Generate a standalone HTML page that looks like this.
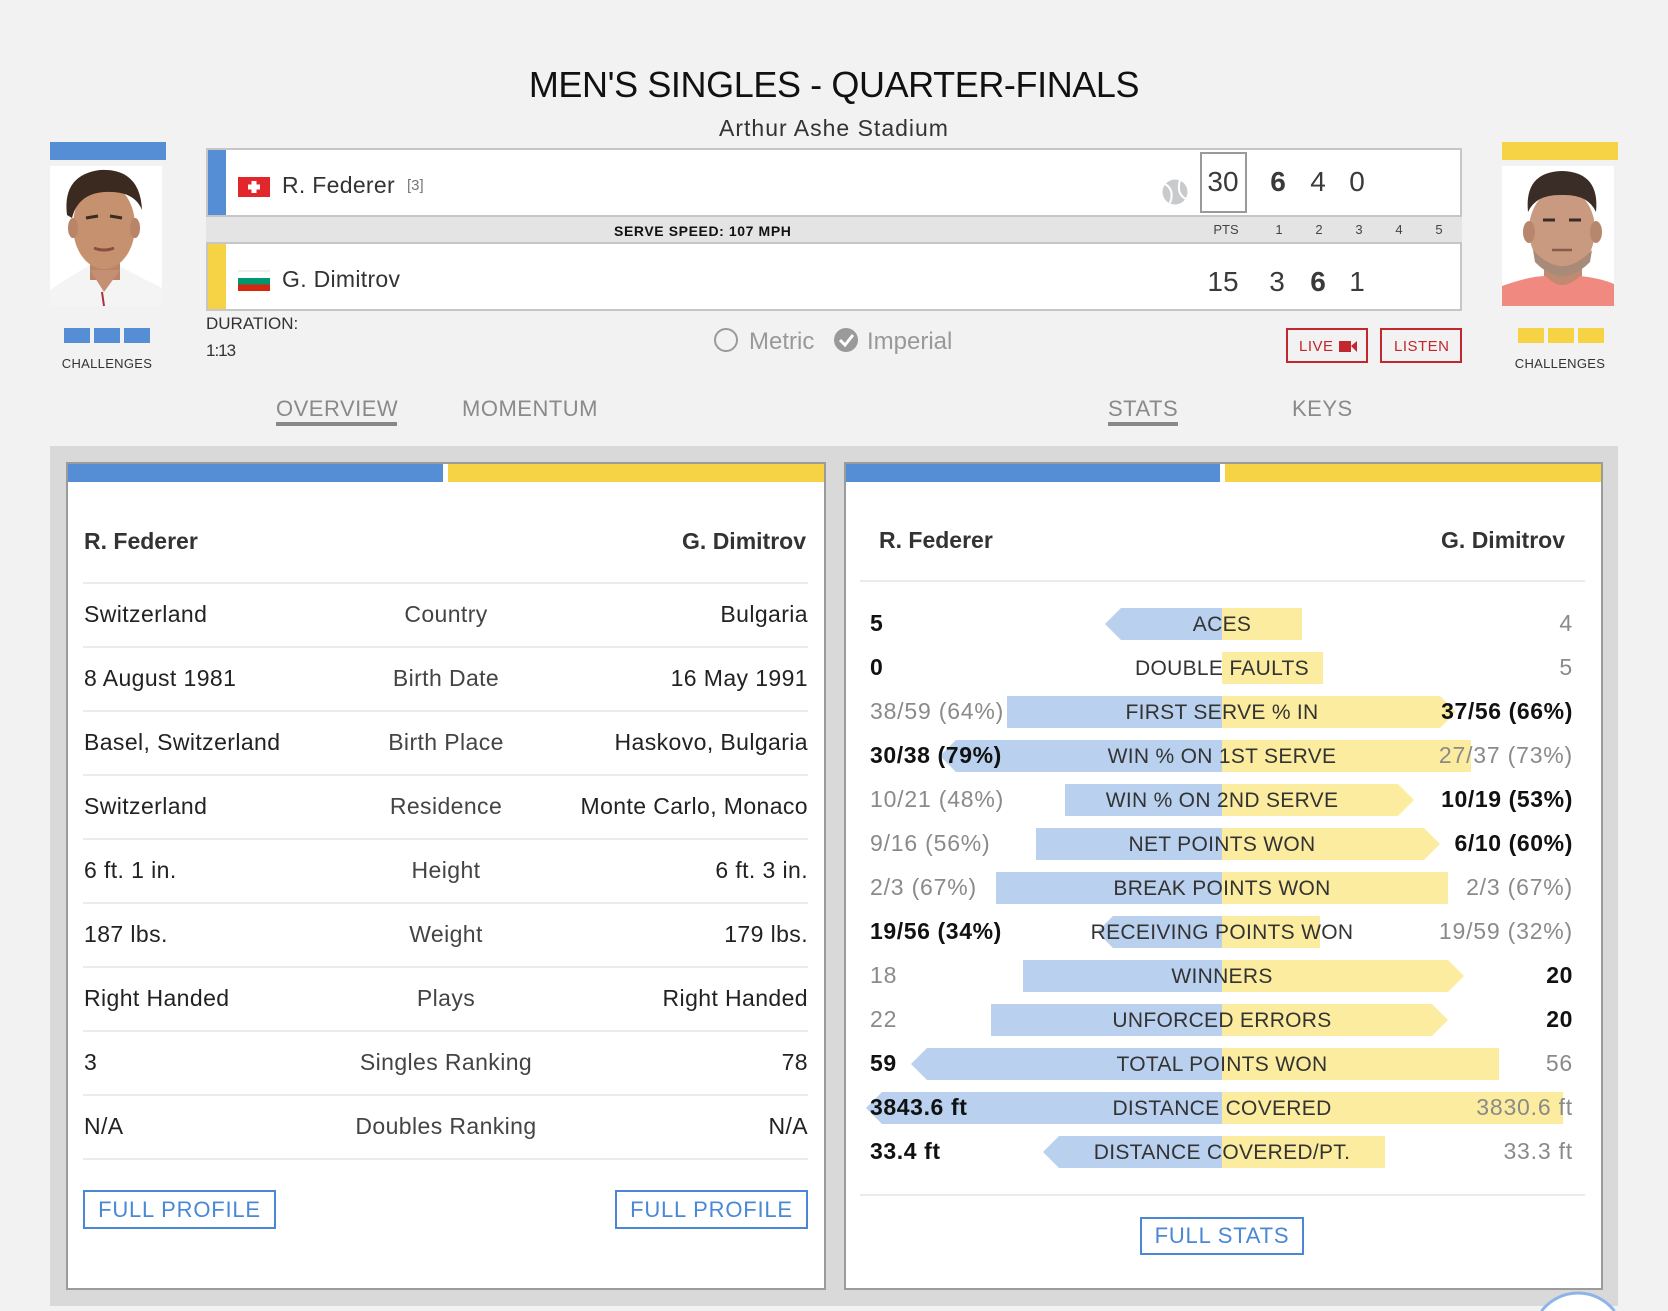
<!DOCTYPE html>
<html><head><meta charset="utf-8">
<style>
html,body{margin:0;padding:0;background:#f2f2f2;width:1668px;height:1311px;overflow:hidden;}
#root{position:relative;width:1668px;height:1311px;overflow:hidden;background:#f2f2f2;font-family:"Liberation Sans",Arial,sans-serif;color:#333;}
.a{position:absolute;}
.t{position:absolute;white-space:nowrap;line-height:1;}
.val{font-size:23px;letter-spacing:0.4px;color:#222;}
.lab{font-size:23px;letter-spacing:0.4px;color:#444;width:400px;text-align:center;}
.sv{font-size:23px;letter-spacing:0.8px;}
.g{color:#8a8a8a;}
.b{color:#111;font-weight:bold;letter-spacing:0.6px;}
.sl{font-size:21px;letter-spacing:0.3px;color:#333;width:400px;left:1022px;text-align:center;}
.sep{position:absolute;height:2px;background:#ebebeb;}
.btn{position:absolute;box-sizing:border-box;border:2px solid #4a88d6;}
.btxt{font-size:22px;letter-spacing:0.8px;color:#4a88d6;}
.tab{font-size:22px;letter-spacing:0.5px;color:#8a8a8a;}
.sc{font-size:28px;color:#3a3a3a;width:40px;text-align:center;}
.hd{font-size:13px;color:#444;width:30px;text-align:center;}
</style></head>
<body><div id="root">

<div class="a" style="left:50px;top:142px;width:116px;height:18px;background:#558ed5"></div>
<div class="a" style="left:1502px;top:142px;width:116px;height:18px;background:#f6d344"></div>
<div class="a" style="left:50px;top:166px;width:112px;height:140px;background:#fff"></div>
<div class="a" style="left:1502px;top:166px;width:112px;height:140px;background:#fff"></div>

<div class="a" style="left:64px;top:328px;width:26px;height:15px;background:#558ed5"></div>
<div class="a" style="left:94px;top:328px;width:26px;height:15px;background:#558ed5"></div>
<div class="a" style="left:124px;top:328px;width:26px;height:15px;background:#558ed5"></div>
<div class="a" style="left:1518px;top:328px;width:26px;height:15px;background:#f6d344"></div>
<div class="a" style="left:1548px;top:328px;width:26px;height:15px;background:#f6d344"></div>
<div class="a" style="left:1578px;top:328px;width:26px;height:15px;background:#f6d344"></div>

<div class="a" style="left:206px;top:148px;width:1256px;height:69px;box-sizing:border-box;border:2px solid #c4c6c8;background:#fff"></div>
<div class="a" style="left:206px;top:217px;width:1256px;height:26px;background:#e4e4e4"></div>
<div class="a" style="left:206px;top:242px;width:1256px;height:69px;box-sizing:border-box;border:2px solid #c4c6c8;background:#fff"></div>
<div class="a" style="left:208px;top:150px;width:18px;height:65px;background:#558ed5"></div>
<div class="a" style="left:208px;top:244px;width:18px;height:65px;background:#f6d344"></div>
<div class="a" style="left:1200px;top:152px;width:47px;height:61px;box-sizing:border-box;border:2px solid #9a9a9a"></div>

<div class="a" style="left:1286px;top:328px;width:82px;height:35px;box-sizing:border-box;border:2px solid #c1272d"></div>
<div class="a" style="left:1380px;top:328px;width:82px;height:35px;box-sizing:border-box;border:2px solid #c1272d"></div>

<div class="a" style="left:276px;top:422px;width:121px;height:4px;background:#888"></div>
<div class="a" style="left:1108px;top:422px;width:70px;height:4px;background:#888"></div>

<div class="a" style="left:50px;top:446px;width:1568px;height:860px;background:#d9d9d9"></div>
<div class="a" style="left:66px;top:462px;width:760px;height:828px;box-sizing:border-box;border:2px solid #9b9b9b;background:#fff"></div>
<div class="a" style="left:844px;top:462px;width:759px;height:828px;box-sizing:border-box;border:2px solid #9b9b9b;background:#fff"></div>
<div class="a" style="left:68px;top:464px;width:375px;height:18px;background:#558ed5"></div>
<div class="a" style="left:448px;top:464px;width:376px;height:18px;background:#f6d344"></div>
<div class="a" style="left:846px;top:464px;width:374px;height:18px;background:#558ed5"></div>
<div class="a" style="left:1225px;top:464px;width:376px;height:18px;background:#f6d344"></div>

<div class="sep" style="left:83px;width:725px;top:582px"></div>
<div class="sep" style="left:83px;width:725px;top:646px"></div>
<div class="sep" style="left:83px;width:725px;top:710px"></div>
<div class="sep" style="left:83px;width:725px;top:774px"></div>
<div class="sep" style="left:83px;width:725px;top:838px"></div>
<div class="sep" style="left:83px;width:725px;top:902px"></div>
<div class="sep" style="left:83px;width:725px;top:966px"></div>
<div class="sep" style="left:83px;width:725px;top:1030px"></div>
<div class="sep" style="left:83px;width:725px;top:1094px"></div>
<div class="sep" style="left:83px;width:725px;top:1158px"></div>
<div class="sep" style="left:860px;width:725px;top:580px"></div>
<div class="sep" style="left:860px;width:725px;top:1194px"></div>

<div class="btn" style="left:83px;top:1190px;width:193px;height:39px"></div>
<div class="btn" style="left:615px;top:1190px;width:193px;height:39px"></div>
<div class="btn" style="left:1140px;top:1217px;width:164px;height:38px"></div>

<svg class="a" style="left:0;top:0;display:block;overflow:hidden" width="1668" height="1311" viewBox="0 0 1668 1311">
  <g>
    <path d="M50,290 Q80,270 96,262 L112,262 Q130,272 162,288 L162,306 L50,306 Z" fill="#f4f4f4"/>
    <rect x="90" y="250" width="30" height="30" fill="#b98468"/>
    <path d="M90,270 L104,292 L120,270" fill="#c48f72"/>
    <ellipse cx="104" cy="226" rx="31" ry="43" fill="#c6916f"/>
    <ellipse cx="73" cy="228" rx="5" ry="10" fill="#b98468"/>
    <ellipse cx="135" cy="228" rx="5" ry="10" fill="#b98468"/>
    <path d="M67,215 Q62,175 100,170 Q140,168 142,210 Q134,190 104,192 Q78,194 72,218 Z" fill="#3b2a1f"/>
    <path d="M86,218 L98,216 M110,216 L122,218" stroke="#3b2a1f" stroke-width="3"/>
    <path d="M94,248 Q104,252 114,248" stroke="#8a4f40" stroke-width="3" fill="none"/>
    <path d="M102,292 L104,306" stroke="#b0303a" stroke-width="2"/>
  </g>
  <g>
    <rect x="1544" y="255" width="38" height="35" fill="#c08a70"/>
    <path d="M1502,286 Q1530,276 1546,276 Q1562,294 1580,276 Q1600,278 1614,284 L1614,306 L1502,306 Z" fill="#f08a80"/>
    <ellipse cx="1562" cy="230" rx="33" ry="42" fill="#c99a80"/>
    <ellipse cx="1529" cy="232" rx="6" ry="11" fill="#b8866c"/>
    <ellipse cx="1596" cy="232" rx="6" ry="11" fill="#b8866c"/>
    <path d="M1533,250 Q1562,282 1592,250 L1590,262 Q1562,290 1535,262 Z" fill="#a88a78"/>
    <path d="M1528,212 Q1524,172 1562,171 Q1600,172 1596,212 Q1588,194 1562,195 Q1536,194 1528,212 Z" fill="#3a2c26"/>
    <path d="M1543,220 L1555,220 M1569,220 L1581,220" stroke="#3a2c26" stroke-width="3"/>
    <path d="M1552,250 L1572,250" stroke="#8a5a4a" stroke-width="2.5"/>
  </g>
  <rect x="238" y="177" width="32" height="20" fill="#e3262b"/>
  <rect x="251.5" y="181" width="5" height="12" fill="#fff"/>
  <rect x="248" y="184.5" width="12" height="5" fill="#fff"/>
  <rect x="238" y="271" width="32" height="7" fill="#fff"/>
  <rect x="238" y="270.5" width="32" height="1" fill="#ddd"/>
  <rect x="238" y="278" width="32" height="6.5" fill="#00966e"/>
  <rect x="238" y="284.5" width="32" height="6.5" fill="#d62612"/>
  <circle cx="1175" cy="192" r="12.5" fill="#c9cacc"/>
  <path d="M1165,184 Q1175,190 1170,203" stroke="#fff" stroke-width="2" fill="none"/>
  <path d="M1180,180 Q1176,194 1186,199" stroke="#fff" stroke-width="2" fill="none"/>
  <circle cx="726" cy="340" r="11" fill="none" stroke="#9a9a9a" stroke-width="2"/>
  <circle cx="846" cy="340" r="12" fill="#9a9a9a"/>
  <path d="M840,340 L845,345 L853,335" stroke="#fff" stroke-width="3" fill="none"/>
  <rect x="1339" y="341" width="12" height="11" fill="#c1272d"/>
  <polygon points="1351,346 1357,341 1357,352" fill="#c1272d"/>

  <g fill="#b9d0ee">
    <polygon points="1105,624 1121,608 1222,608 1222,640 1121,640"/>
    <rect x="1007" y="696" width="215" height="32"/>
    <polygon points="940,756 956,740 1222,740 1222,772 956,772"/>
    <rect x="1065" y="784" width="157" height="32"/>
    <rect x="1036" y="828" width="186" height="32"/>
    <rect x="996" y="872" width="226" height="32"/>
    <polygon points="1097,932 1113,916 1222,916 1222,948 1113,948"/>
    <rect x="1023" y="960" width="199" height="32"/>
    <rect x="991" y="1004" width="231" height="32"/>
    <polygon points="911,1064 927,1048 1222,1048 1222,1080 927,1080"/>
    <polygon points="866,1108 882,1092 1222,1092 1222,1124 882,1124"/>
    <polygon points="1043,1152 1059,1136 1222,1136 1222,1168 1059,1168"/>
  </g>
  <g fill="#fcec9f">
    <rect x="1222" y="608" width="80" height="32"/>
    <rect x="1222" y="652" width="101" height="32"/>
    <polygon points="1222,696 1440,696 1456,712 1440,728 1222,728"/>
    <rect x="1222" y="740" width="249" height="32"/>
    <polygon points="1222,784 1398,784 1414,800 1398,816 1222,816"/>
    <polygon points="1222,828 1424,828 1440,844 1424,860 1222,860"/>
    <rect x="1222" y="872" width="226" height="32"/>
    <rect x="1222" y="916" width="98" height="32"/>
    <polygon points="1222,960 1448,960 1464,976 1448,992 1222,992"/>
    <polygon points="1222,1004 1432,1004 1448,1020 1432,1036 1222,1036"/>
    <rect x="1222" y="1048" width="277" height="32"/>
    <rect x="1222" y="1092" width="341" height="32"/>
    <rect x="1222" y="1136" width="163" height="32"/>
  </g>
  <path d="M1541.5,1311 A46,46 0 0 1 1614.5,1311 Z" fill="#fff"/>
  <path d="M1541.5,1311 A46,46 0 0 1 1614.5,1311" fill="none" stroke="#8db4e8" stroke-width="3"/>
</svg>

<div class="t" style="left:0;width:1668px;text-align:center;top:67px;font-size:36px;letter-spacing:-0.4px;color:#111">MEN'S SINGLES - QUARTER-FINALS</div>
<div class="t" style="left:0;width:1668px;text-align:center;top:117px;font-size:23px;letter-spacing:1px;color:#333">Arthur Ashe Stadium</div>

<div class="t" style="left:282px;top:174px;font-size:23px;letter-spacing:0.3px;color:#333">R. Federer</div>
<div class="t" style="left:407px;top:178px;font-size:15px;color:#777">[3]</div>
<div class="t" style="left:282px;top:268px;font-size:23px;letter-spacing:0.3px;color:#333">G. Dimitrov</div>
<div class="t" style="left:614px;top:224px;font-size:14px;font-weight:bold;letter-spacing:0.6px;color:#111">SERVE SPEED: 107 MPH</div>

<div class="t sc" style="left:1203px;top:168px">30</div>
<div class="t sc" style="left:1258px;top:168px;font-weight:bold">6</div>
<div class="t sc" style="left:1298px;top:168px">4</div>
<div class="t sc" style="left:1337px;top:168px">0</div>
<div class="t hd" style="left:1211px;top:223px">PTS</div>
<div class="t hd" style="left:1264px;top:223px">1</div>
<div class="t hd" style="left:1304px;top:223px">2</div>
<div class="t hd" style="left:1344px;top:223px">3</div>
<div class="t hd" style="left:1384px;top:223px">4</div>
<div class="t hd" style="left:1424px;top:223px">5</div>
<div class="t sc" style="left:1203px;top:268px">15</div>
<div class="t sc" style="left:1257px;top:268px">3</div>
<div class="t sc" style="left:1298px;top:268px;font-weight:bold">6</div>
<div class="t sc" style="left:1337px;top:268px">1</div>

<div class="t" style="left:206px;top:315px;font-size:17px;color:#333">DURATION:</div>
<div class="t" style="left:206px;top:342px;font-size:17px;letter-spacing:-1px;color:#333">1:13</div>
<div class="t" style="left:749px;top:330px;font-size:24px;color:#999">Metric</div>
<div class="t" style="left:867px;top:330px;font-size:24px;color:#999">Imperial</div>
<div class="t" style="left:1299px;top:339px;font-size:15px;letter-spacing:0.5px;color:#c1272d">LIVE</div>
<div class="t" style="left:1394px;top:339px;font-size:15px;letter-spacing:0.5px;color:#c1272d">LISTEN</div>

<div class="t" style="left:57px;width:100px;text-align:center;top:357px;font-size:13px;letter-spacing:0.3px;color:#333">CHALLENGES</div>
<div class="t" style="left:1510px;width:100px;text-align:center;top:357px;font-size:13px;letter-spacing:0.3px;color:#333">CHALLENGES</div>

<div class="t tab" style="left:276px;top:398px">OVERVIEW</div>
<div class="t tab" style="left:462px;top:398px">MOMENTUM</div>
<div class="t tab" style="left:1108px;top:398px">STATS</div>
<div class="t tab" style="left:1292px;top:398px">KEYS</div>

<div class="t" style="left:84px;top:530px;font-size:23px;font-weight:bold;color:#333">R. Federer</div>
<div class="t" style="right:862px;top:530px;font-size:23px;font-weight:bold;color:#333">G. Dimitrov</div>

<div class="t val" style="left:84px;top:603px">Switzerland</div>
<div class="t lab" style="left:246px;top:603px">Country</div>
<div class="t val" style="right:860px;top:603px">Bulgaria</div>

<div class="t val" style="left:84px;top:667px">8 August 1981</div>
<div class="t lab" style="left:246px;top:667px">Birth Date</div>
<div class="t val" style="right:860px;top:667px">16 May 1991</div>

<div class="t val" style="left:84px;top:731px">Basel, Switzerland</div>
<div class="t lab" style="left:246px;top:731px">Birth Place</div>
<div class="t val" style="right:860px;top:731px">Haskovo, Bulgaria</div>

<div class="t val" style="left:84px;top:795px">Switzerland</div>
<div class="t lab" style="left:246px;top:795px">Residence</div>
<div class="t val" style="right:860px;top:795px">Monte Carlo, Monaco</div>

<div class="t val" style="left:84px;top:859px">6 ft. 1 in.</div>
<div class="t lab" style="left:246px;top:859px">Height</div>
<div class="t val" style="right:860px;top:859px">6 ft. 3 in.</div>

<div class="t val" style="left:84px;top:923px">187 lbs.</div>
<div class="t lab" style="left:246px;top:923px">Weight</div>
<div class="t val" style="right:860px;top:923px">179 lbs.</div>

<div class="t val" style="left:84px;top:987px">Right Handed</div>
<div class="t lab" style="left:246px;top:987px">Plays</div>
<div class="t val" style="right:860px;top:987px">Right Handed</div>

<div class="t val" style="left:84px;top:1051px">3</div>
<div class="t lab" style="left:246px;top:1051px">Singles Ranking</div>
<div class="t val" style="right:860px;top:1051px">78</div>

<div class="t val" style="left:84px;top:1115px">N/A</div>
<div class="t lab" style="left:246px;top:1115px">Doubles Ranking</div>
<div class="t val" style="right:860px;top:1115px">N/A</div>

<div class="t btxt" style="left:83px;width:193px;text-align:center;top:1199px">FULL PROFILE</div>
<div class="t btxt" style="left:615px;width:193px;text-align:center;top:1199px">FULL PROFILE</div>

<div class="t" style="left:879px;top:529px;font-size:23px;font-weight:bold;color:#333">R. Federer</div>
<div class="t" style="right:103px;top:529px;font-size:23px;font-weight:bold;color:#333">G. Dimitrov</div>

<div class="t sv b" style="left:870px;top:612px">5</div>
<div class="t sl" style="top:614px">ACES</div>
<div class="t sv g" style="right:95px;top:612px">4</div>

<div class="t sv b" style="left:870px;top:656px">0</div>
<div class="t sl" style="top:658px">DOUBLE FAULTS</div>
<div class="t sv g" style="right:95px;top:656px">5</div>

<div class="t sv g" style="left:870px;top:700px">38/59 (64%)</div>
<div class="t sl" style="top:702px">FIRST SERVE % IN</div>
<div class="t sv b" style="right:95px;top:700px">37/56 (66%)</div>

<div class="t sv b" style="left:870px;top:744px">30/38 (79%)</div>
<div class="t sl" style="top:746px">WIN % ON 1ST SERVE</div>
<div class="t sv g" style="right:95px;top:744px">27/37 (73%)</div>

<div class="t sv g" style="left:870px;top:788px">10/21 (48%)</div>
<div class="t sl" style="top:790px">WIN % ON 2ND SERVE</div>
<div class="t sv b" style="right:95px;top:788px">10/19 (53%)</div>

<div class="t sv g" style="left:870px;top:832px">9/16 (56%)</div>
<div class="t sl" style="top:834px">NET POINTS WON</div>
<div class="t sv b" style="right:95px;top:832px">6/10 (60%)</div>

<div class="t sv g" style="left:870px;top:876px">2/3 (67%)</div>
<div class="t sl" style="top:878px">BREAK POINTS WON</div>
<div class="t sv g" style="right:95px;top:876px">2/3 (67%)</div>

<div class="t sv b" style="left:870px;top:920px">19/56 (34%)</div>
<div class="t sl" style="top:922px">RECEIVING POINTS WON</div>
<div class="t sv g" style="right:95px;top:920px">19/59 (32%)</div>

<div class="t sv g" style="left:870px;top:964px">18</div>
<div class="t sl" style="top:966px">WINNERS</div>
<div class="t sv b" style="right:95px;top:964px">20</div>

<div class="t sv g" style="left:870px;top:1008px">22</div>
<div class="t sl" style="top:1010px">UNFORCED ERRORS</div>
<div class="t sv b" style="right:95px;top:1008px">20</div>

<div class="t sv b" style="left:870px;top:1052px">59</div>
<div class="t sl" style="top:1054px">TOTAL POINTS WON</div>
<div class="t sv g" style="right:95px;top:1052px">56</div>

<div class="t sv b" style="left:870px;top:1096px">3843.6 ft</div>
<div class="t sl" style="top:1098px">DISTANCE COVERED</div>
<div class="t sv g" style="right:95px;top:1096px">3830.6 ft</div>

<div class="t sv b" style="left:870px;top:1140px">33.4 ft</div>
<div class="t sl" style="top:1142px">DISTANCE COVERED/PT.</div>
<div class="t sv g" style="right:95px;top:1140px">33.3 ft</div>

<div class="t btxt" style="left:1140px;width:164px;text-align:center;top:1225px">FULL STATS</div>

</div></body></html>
